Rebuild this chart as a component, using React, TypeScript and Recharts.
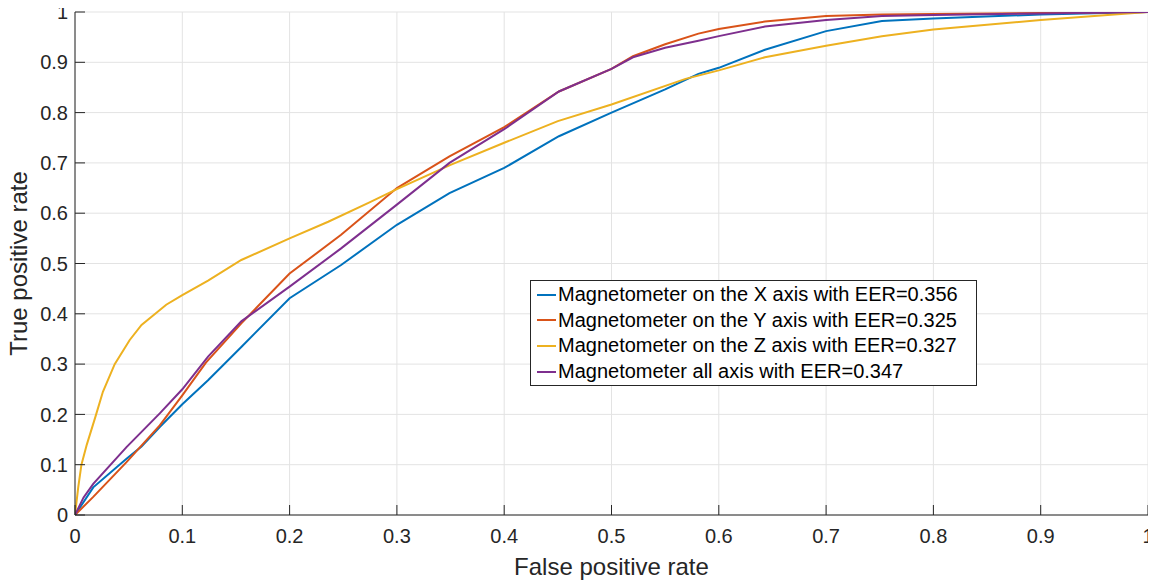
import { LineChart, Line, XAxis, YAxis, CartesianGrid, Legend } from 'recharts'

const tickValues = [0, 0.1, 0.2, 0.3, 0.4, 0.5, 0.6, 0.7, 0.8, 0.9, 1]

// Magnetometer X axis
const fprX = [0, 0.017, 0.048, 0.062, 0.079, 0.1, 0.124, 0.155, 0.2, 0.248, 0.3, 0.349, 0.4, 0.451, 0.5, 0.55, 0.581, 0.6, 0.643, 0.7, 0.752, 0.8, 0.9, 1]
const tprX = [0, 0.055, 0.112, 0.136, 0.175, 0.22, 0.268, 0.334, 0.431, 0.497, 0.577, 0.64, 0.69, 0.753, 0.8, 0.846, 0.877, 0.889, 0.925, 0.962, 0.982, 0.987, 0.995, 1]

// Magnetometer Y axis
const fprY = [0, 0.017, 0.048, 0.079, 0.1, 0.122, 0.155, 0.2, 0.248, 0.3, 0.349, 0.4, 0.451, 0.5, 0.52, 0.55, 0.581, 0.6, 0.643, 0.7, 0.752, 0.8, 0.9, 1]
const tprY = [0, 0.036, 0.105, 0.178, 0.238, 0.303, 0.381, 0.48, 0.557, 0.65, 0.713, 0.771, 0.842, 0.887, 0.912, 0.936, 0.957, 0.966, 0.981, 0.992, 0.995, 0.996, 0.998, 1]

// Magnetometer Z axis
const fprZ = [0, 0.003, 0.006, 0.011, 0.019, 0.026, 0.037, 0.051, 0.062, 0.085, 0.1, 0.124, 0.155, 0.2, 0.236, 0.273, 0.3, 0.35, 0.4, 0.45, 0.5, 0.569, 0.6, 0.643, 0.7, 0.752, 0.8, 0.9, 1]
const tprZ = [0, 0.055, 0.1, 0.14, 0.195, 0.245, 0.3, 0.348, 0.378, 0.418, 0.437, 0.466, 0.507, 0.55, 0.583, 0.62, 0.648, 0.696, 0.74, 0.783, 0.816, 0.867, 0.884, 0.91, 0.933, 0.952, 0.965, 0.984, 1]

// Magnetometer all axis
const fprAll = [0, 0.008, 0.017, 0.048, 0.079, 0.1, 0.124, 0.155, 0.2, 0.248, 0.3, 0.349, 0.4, 0.451, 0.5, 0.52, 0.55, 0.581, 0.6, 0.643, 0.7, 0.752, 0.8, 0.9, 1]
const tprAll = [0, 0.035, 0.062, 0.135, 0.202, 0.25, 0.315, 0.385, 0.454, 0.53, 0.617, 0.7, 0.767, 0.842, 0.887, 0.91, 0.929, 0.943, 0.952, 0.971, 0.984, 0.992, 0.994, 0.997, 1]

const seriesNames = [
  'Magnetometer on the X axis with EER=0.356',
  'Magnetometer on the Y axis with EER=0.325',
  'Magnetometer on the Z axis with EER=0.327',
  'Magnetometer all axis with EER=0.347'
]
const seriesColors = ['#0072BD', '#D95319', '#EDB120', '#7E2F8E']

const toPoints = (fpr: number[], tpr: number[]) => fpr.map((f, i) => ({ fpr: f, tpr: tpr[i] }))

const series = [
  toPoints(fprX, tprX),
  toPoints(fprY, tprY),
  toPoints(fprZ, tprZ),
  toPoints(fprAll, tprAll)
]

const axisColor = '#262626'
const font = '"Liberation Sans", Arial, Helvetica, sans-serif'

const LegendBox = () => (
  <div
    style={{
      border: `1px solid ${axisColor}`,
      background: '#fff',
      width: 447,
      boxSizing: 'border-box',
      padding: '1px 0 1px 6px',
      fontFamily: font,
      fontSize: 20,
      color: '#000',
      textAlign: 'left'
    }}
  >
    {seriesNames.map((name, i) => (
      <div key={name} style={{ display: 'flex', alignItems: 'center', height: 25.6, whiteSpace: 'nowrap' }}>
        <span style={{ display: 'inline-block', width: 19, height: 2, background: seriesColors[i], marginRight: 2 }} />
        <span>{name}</span>
      </div>
    ))}
  </div>
)

const XLabel = (props: any) => {
  const { viewBox } = props
  return (
    <text
      x={viewBox.x + viewBox.width / 2}
      y={575}
      textAnchor="middle"
      fontSize={24}
      fontFamily={font}
      fill={axisColor}
    >
      False positive rate
    </text>
  )
}

const YLabel = (props: any) => {
  const { viewBox } = props
  const cy = viewBox.y + viewBox.height / 2
  return (
    <text
      x={27}
      y={cy}
      transform={`rotate(-90, 27, ${cy})`}
      textAnchor="middle"
      fontSize={24}
      fontFamily={font}
      fill={axisColor}
    >
      True positive rate
    </text>
  )
}

const tickStyle = { fill: axisColor, fontSize: 20, fontFamily: font }

export default function App() {
  return (
    <div style={{ width: 1156, height: 583, margin: '-8px 0 0 -8px', fontFamily: font }}>
      <LineChart width={1156} height={583} margin={{ top: 12, right: 8, bottom: 0, left: 0 }}>
        <CartesianGrid stroke="#e3e3e3" strokeWidth={1} />
        <XAxis
          dataKey="fpr"
          type="number"
          domain={[0, 1]}
          ticks={tickValues}
          allowDataOverflow
          height={68}
          tickSize={-10}
          tickMargin={24}
          stroke={axisColor}
          tick={tickStyle}
          label={XLabel}
        />
        <XAxis
          xAxisId="top"
          orientation="top"
          type="number"
          domain={[0, 1]}
          ticks={tickValues}
          allowDataOverflow
          height={0}
          tickSize={-10}
          stroke={axisColor}
          tick={false}
        />
        <YAxis
          type="number"
          domain={[0, 1]}
          ticks={tickValues}
          allowDataOverflow
          width={75}
          tickSize={-10}
          tickMargin={17}
          stroke={axisColor}
          tick={tickStyle}
          label={YLabel}
        />
        <YAxis
          yAxisId="right"
          orientation="right"
          type="number"
          domain={[0, 1]}
          ticks={tickValues}
          allowDataOverflow
          width={0}
          tickSize={-10}
          stroke={axisColor}
          tick={false}
        />
        {series.map((pts, i) => (
          <Line
            key={seriesNames[i]}
            data={pts}
            dataKey="tpr"
            name={seriesNames[i]}
            type="linear"
            stroke={seriesColors[i]}
            strokeWidth={2}
            dot={false}
            isAnimationActive={false}
          />
        ))}
        <Legend
          layout="horizontal"
          verticalAlign="middle"
          align="center"
          content={LegendBox}
          wrapperStyle={{ position: 'absolute', left: 530, top: 280, width: 'auto' }}
        />
      </LineChart>
    </div>
  )
}
